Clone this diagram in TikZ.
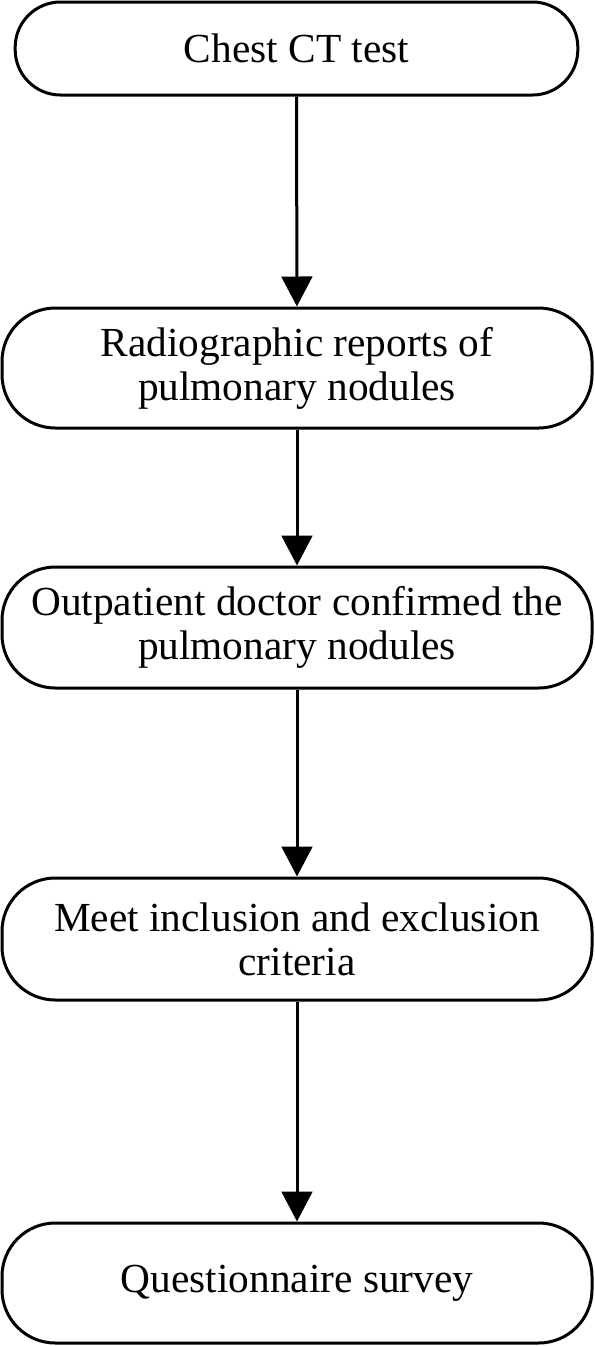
\documentclass[tikz,border=0pt]{standalone}
\usepackage{fontspec}
\setmainfont{Liberation Serif}
\usetikzlibrary{arrows.meta}
\tikzset{every picture/.style={line width=2.25pt}}
\tikzset{
  stepbox/.style={draw, line width=2.25pt, rounded corners=40pt, minimum width=442.5pt, minimum height=90pt,
    align=center, inner sep=0pt, font=\fontsize{31}{33}\selectfont},
  flowarrow/.style={line width=2.25pt, -{Triangle[length=22.5pt,width=23pt]}}
}
\begin{document}
\begin{tikzpicture}[x=0.75pt,y=0.75pt,yscale=-1,xscale=1]
\useasboundingbox (0,0) rectangle (594,1346);

%Shape: Rounded Rect [id:chest]
\node [stepbox, rounded corners=34pt, minimum width=422pt, minimum height=69.75pt] (chest) at (296.5,48.5) {Chest CT test};
%Shape: Rounded Rect [id:report]
\node [stepbox] (report) at (297,368) {Radiographic reports of\\pulmonary nodules};
%Shape: Rounded Rect [id:doctor]
\node [stepbox, minimum height=90.75pt] (doctor) at (297,627.5) {Outpatient doctor confirmed the\\pulmonary nodules};
%Shape: Rounded Rect [id:criteria]
\node [stepbox, minimum height=91.5pt] (criteria) at (297,939) {Meet inclusion and exclusion\\criteria};
%Shape: Rounded Rect [id:survey]
\node [stepbox] (survey) at (297,1283) {Questionnaire survey};

%Straight Lines
\draw [flowarrow] (chest) -- (report);
\draw [flowarrow] (report) -- (doctor);
\draw [flowarrow] (doctor) -- (criteria);
\draw [flowarrow] (criteria) -- (survey);
\end{tikzpicture}
\end{document}
